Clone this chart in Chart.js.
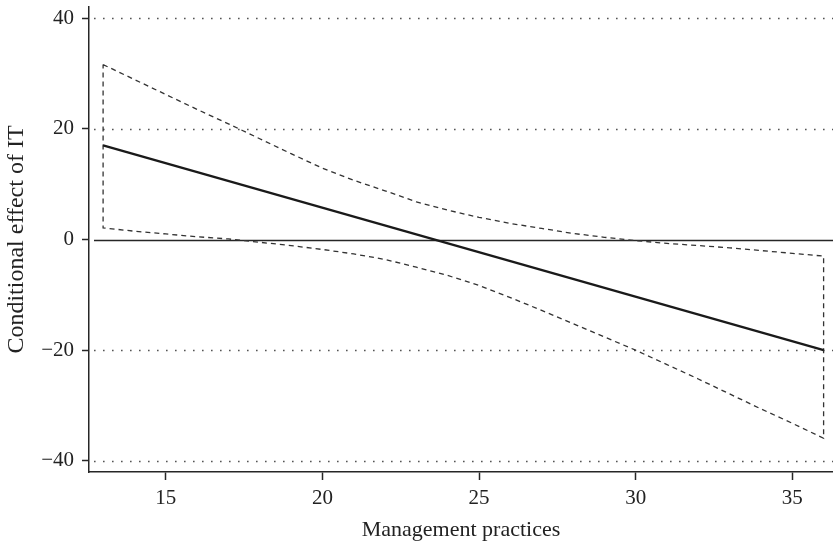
<!DOCTYPE html>
<html>
<head>
<meta charset="utf-8">
<script src="https://cdn.jsdelivr.net/npm/chart.js@4.4.0/dist/chart.umd.min.js"></script>
<style>
  html, body { margin: 0; padding: 0; background: #fff; }
</style>
</head>
<body>
<canvas id="myChart" width="833" height="544"></canvas>
<script>
// values
const practices = [13, 14, 15, 16, 17, 18, 19, 20, 21, 22, 23, 24, 25, 26, 27, 28, 29, 30, 31, 32, 33, 34, 35, 36];
const upperBound = [31.6, 28.9, 26.2, 23.5, 20.9, 18.2, 15.5, 12.9, 10.7, 8.8, 6.8, 5.3, 4.0, 2.9, 2.0, 1.1, 0.4, -0.2, -0.7, -1.1, -1.5, -2.0, -2.5, -3.0];
const lowerBound = [2.1, 1.5, 1.0, 0.5, 0.1, -0.5, -1.1, -1.8, -2.6, -3.6, -5.0, -6.5, -8.3, -10.5, -12.8, -15.2, -17.6, -20.0, -22.6, -25.2, -27.9, -30.6, -33.2, -35.9];
const effectX = [13, 36];
const effectY = [17, -20];
const xTicks = [15, 20, 25, 30, 35];
const yTicks = [-40, -20, 0, 20, 40];

const serif = "'Liberation Serif', 'DejaVu Serif', serif";
const ink = "#262626";

// closed dashed outline: upper edge, right side, lower edge back, left side
const band = [];
practices.forEach((p, i) => band.push({ x: p, y: upperBound[i] }));
for (let i = practices.length - 1; i >= 0; i--) band.push({ x: practices[i], y: lowerBound[i] });
band.push({ x: practices[0], y: upperBound[0] });

const effect = effectX.map((x, i) => ({ x: x, y: effectY[i] }));

// dotted reference lines at the y ticks, solid one at zero
const refLines = {
  id: "refLines",
  beforeDatasetsDraw(chart) {
    const { ctx, chartArea, scales } = chart;
    ctx.save();
    yTicks.forEach((v) => {
      const py = Math.round(scales.y.getPixelForValue(v)) + 0.5;
      ctx.beginPath();
      if (v === 0) {
        ctx.setLineDash([]);
        ctx.lineWidth = 1.3;
        ctx.strokeStyle = ink;
      } else {
        ctx.setLineDash([1.6, 7.4]);
        ctx.lineWidth = 1.6;
        ctx.strokeStyle = "#555";
      }
      ctx.moveTo(chartArea.left + 5, py);
      ctx.lineTo(chartArea.right, py);
      ctx.stroke();
    });
    ctx.restore();
  },
};

const ctx = document.getElementById("myChart");
const myChart = new Chart(ctx, {
  type: "scatter",
  data: {
    datasets: [
      {
        label: "Conditional effect",
        data: effect,
        showLine: true,
        borderColor: "#1a1a1a",
        borderWidth: 2.3,
        pointRadius: 0,
      },
      {
        label: "95% CI",
        data: band,
        showLine: true,
        borderColor: "#333",
        borderWidth: 1.3,
        borderDash: [5, 4],
        pointRadius: 0,
      },
    ],
  },
  plugins: [refLines],
  options: {
    responsive: false,
    animation: false,
    layout: { padding: { top: 7, right: 0, left: 0, bottom: 0 } },
    plugins: {
      legend: { display: false },
      tooltip: { enabled: false },
    },
    scales: {
      x: {
        type: "linear",
        min: 12.55,
        max: 36.3,
        afterBuildTicks: (scale) => {
          scale.ticks = xTicks.map((v) => ({ value: v }));
        },
        afterFit: (scale) => {
          scale.height = 72;
          scale.paddingLeft = 0;
          scale.paddingRight = 0;
        },
        border: { display: true, color: ink, width: 1.5 },
        grid: {
          drawOnChartArea: false,
          drawTicks: true,
          tickLength: 8,
          tickColor: ink,
          tickWidth: 1.5,
        },
        ticks: {
          font: { family: serif, size: 21 },
          color: "#222",
          padding: 6,
          maxRotation: 0,
          autoSkip: false,
        },
        title: {
          display: true,
          text: "Management practices",
          font: { family: serif, size: 22 },
          color: "#222",
          padding: { top: 0, bottom: 1 },
        },
      },
      y: {
        type: "linear",
        min: -42,
        max: 42,
        afterBuildTicks: (scale) => {
          scale.ticks = yTicks.map((v) => ({ value: v }));
        },
        afterFit: (scale) => {
          scale.width = 89;
          scale.paddingTop = 0;
          scale.paddingBottom = 0;
        },
        border: { display: true, color: ink, width: 1.5 },
        grid: {
          drawOnChartArea: false,
          drawTicks: true,
          tickLength: 7,
          tickColor: ink,
          tickWidth: 1.5,
        },
        ticks: {
          font: { family: serif, size: 21 },
          color: "#222",
          padding: 8,
          autoSkip: false,
          callback: (v) => (v < 0 ? "\u2212" + Math.abs(v) : String(v)),
        },
        title: {
          display: true,
          text: "Conditional effect of IT",
          font: { family: serif, size: 24 },
          color: "#222",
          padding: { top: 2, bottom: 0 },
        },
      },
    },
  },
});
</script>
</body>
</html>
